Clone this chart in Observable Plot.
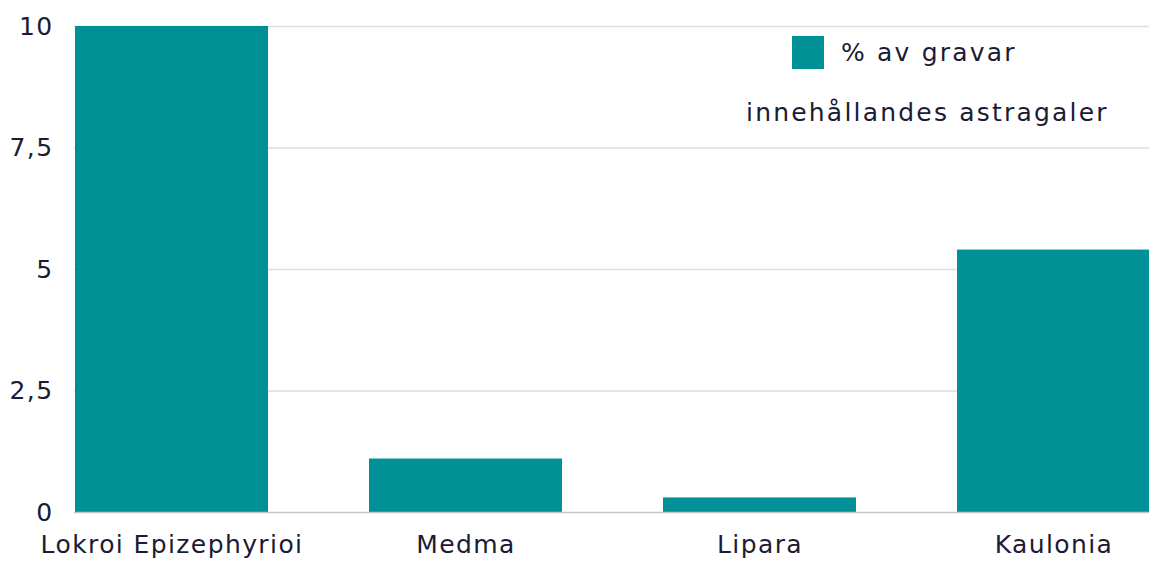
<!DOCTYPE html>
<html>
<head>
<meta charset="utf-8">
<script src="https://cdn.jsdelivr.net/npm/d3@7"></script>
<script src="https://cdn.jsdelivr.net/npm/@observablehq/plot@0.6"></script>
<style>
  html, body { margin: 0; padding: 0; background: #fff; }
  #wrap { position: relative; width: 1149px; height: 563px; overflow: hidden; font-family: "DejaVu Sans", sans-serif; color: #1b1b35; }
  #wrap svg text { letter-spacing: 1.4px; }
  #legend { position: absolute; left: 746px; top: 35px; width: 403px; font-size: 25px; letter-spacing: 2.2px; white-space: nowrap; }
  #legend .row1 { display: flex; align-items: center; margin-left: 46px; height: 35px; }
  #legend .sw { width: 32px; height: 33px; background: #009196; margin-right: 17px; }
  #legend .row2 { margin-top: 28px; }
</style>
</head>
<body>
<div id="wrap"></div>
<script>
const sites = ["Lokroi Epizephyrioi", "Medma", "Lipara", "Kaulonia"];
const percentages = [10, 1.1, 0.3, 5.4];
const yTicks = [0, 2.5, 5, 7.5, 10];
const yTickLabels = ["0", "2,5", "5", "7,5", "10"];
const legendLine1 = "% av gravar";
const legendLine2 = "innehållandes astragaler";

const data = sites.map((s, i) => ({site: s, value: percentages[i]}));
const labelOf = new Map(yTicks.map((t, i) => [t, yTickLabels[i]]));

const chart = Plot.plot({
  width: 1149,
  height: 563,
  marginTop: 26,
  marginBottom: 51,
  marginLeft: 74,
  marginRight: 0,
  style: {fontFamily: "DejaVu Sans, sans-serif", fontSize: "25px", color: "#1b1b35", background: "#fff", overflow: "hidden"},
  x: {domain: sites, range: [74, 1152], paddingInner: 0.342, paddingOuter: 0, label: null},
  y: {domain: [0, 10], label: null},
  marks: [
    Plot.gridY(yTicks.filter(t => t !== 0), {stroke: "#dcdde2", strokeOpacity: 1, strokeWidth: 1.5}),
    Plot.barY(data, {x: "site", y: "value", fill: "#009196"}),
    Plot.ruleY([0], {stroke: "#c4c6cc", strokeWidth: 1.5}),
    Plot.axisY(yTicks, {tickSize: 0, tickPadding: 21, tickFormat: d => labelOf.get(d), fill: "#1b1b35", fontSize: 25, label: null}),
    Plot.axisX({tickSize: 0, tickPadding: 23, fill: "#1b1b35", fontSize: 25, label: null})
  ]
});

const wrap = document.getElementById("wrap");
wrap.appendChild(chart);

const legend = document.createElement("div");
legend.id = "legend";
legend.innerHTML = `<div class="row1"><div class="sw"></div><span></span></div><div class="row2"></div>`;
legend.querySelector(".row1 span").textContent = legendLine1;
legend.querySelector(".row2").textContent = legendLine2;
wrap.appendChild(legend);
</script>
</body>
</html>
